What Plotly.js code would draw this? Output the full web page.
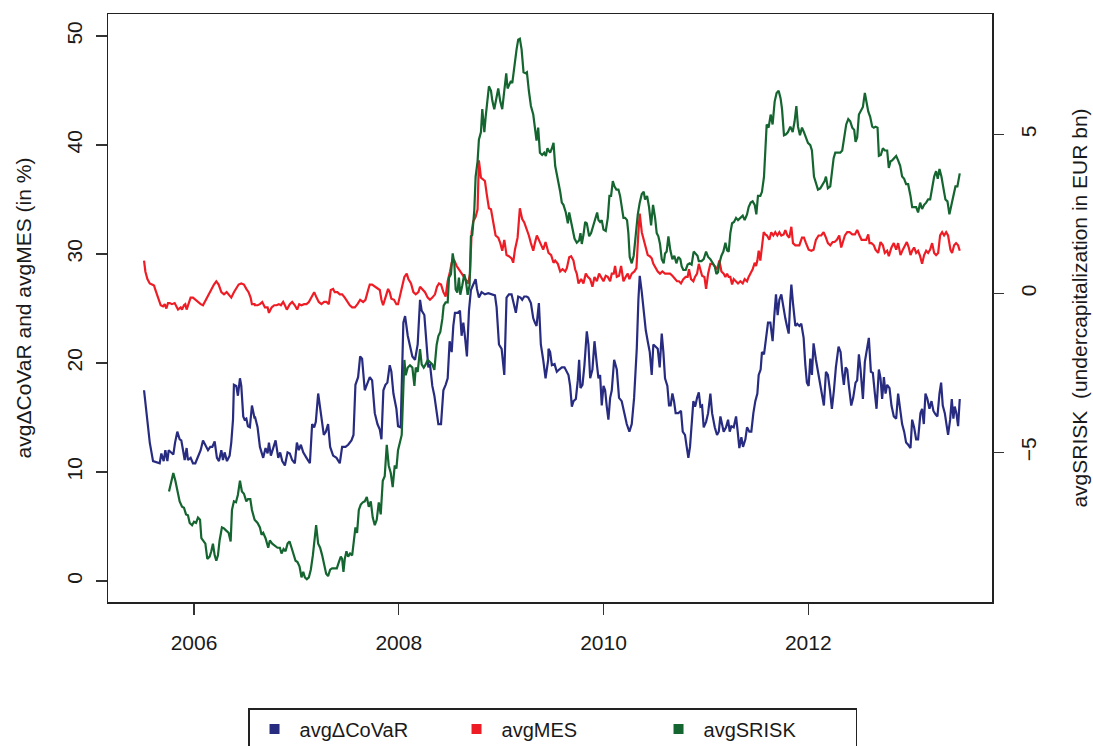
<!DOCTYPE html>
<html>
<head>
<meta charset="utf-8">
<script src="https://cdn.plot.ly/plotly-3.0.1.min.js"></script>
<style>
  html, body { margin: 0; padding: 0; background: #ffffff; }
  #chart { width: 1093px; height: 746px; }
</style>
</head>
<body>
<div id="chart"></div>
<script>
// ---- tick labels / axis values ----
const xTicks = [2006, 2008, 2010, 2012];
const xTickText = ['2006', '2008', '2010', '2012'];
const leftTicks = [0, 10, 20, 30, 40, 50];
const rightTicks = [-5, 0, 5];

const seriesNames = ['avg\u0394CoVaR', 'avgMES', 'avgSRISK'];

// ---- avgΔCoVaR (in %), left axis ----
const covarDates = [
2005.512,2005.545,2005.568,2005.600,2005.649,2005.665,2005.681,2005.704,2005.720,2005.740,
2005.753,2005.779,2005.798,2005.815,2005.837,2005.860,2005.876,2005.893,2005.909,2005.928,
2005.941,2005.967,2005.990,2006.013,2006.039,2006.065,2006.088,2006.111,2006.137,2006.159,
2006.179,2006.202,2006.224,2006.244,2006.267,2006.283,2006.299,2006.322,2006.348,2006.364,
2006.381,2006.390,2006.413,2006.429,2006.449,2006.462,2006.481,2006.494,2006.511,2006.527,
2006.546,2006.566,2006.592,
2006.595,2006.621,2006.644,2006.676,2006.699,2006.719,2006.732,2006.751,2006.774,2006.797,
2006.823,2006.842,2006.862,2006.888,2006.914,2006.936,2006.959,2006.985,2007.005,2007.024,
2007.044,2007.067,2007.099,2007.132,2007.154,2007.174,2007.190,2007.213,2007.239,2007.268,
2007.288,2007.310,2007.330,2007.359,2007.392,2007.424,2007.447,2007.480,2007.506,2007.538,
2007.558,2007.577,2007.603,2007.623,2007.642,2007.668,2007.688,2007.717,2007.740,2007.766,
2007.792,2007.815,2007.831,2007.850,2007.870,2007.889,2007.912,2007.928,2007.948,2007.977,
2007.993,2008.019,
2008.045,2008.062,2008.088,2008.110,2008.133,2008.159,2008.185,2008.208,2008.224,2008.250,
2008.273,2008.289,2008.305,2008.328,2008.348,2008.370,2008.387,2008.413,2008.436,2008.458,
2008.478,2008.497,2008.517,2008.533,2008.549,2008.575,2008.598,2008.614,2008.631,2008.647,
2008.666,2008.686,2008.705,2008.728,2008.751,2008.764,2008.783,2008.809,2008.842,2008.875,
2008.907,2008.940,2008.956,2008.979,2009.005,2009.031,2009.053,2009.076,2009.102,2009.125,
2009.144,2009.167,2009.190,2009.206,2009.226,2009.249,2009.265,2009.291,2009.314,2009.330,
2009.346,2009.369,2009.388,2009.411,2009.434,2009.460,
2009.463,2009.479,2009.496,2009.522,2009.544,2009.567,2009.593,2009.619,2009.642,2009.658,
2009.674,2009.691,2009.707,2009.730,2009.749,2009.762,2009.775,2009.795,2009.814,2009.837,
2009.853,2009.870,2009.892,2009.912,2009.935,2009.951,2009.967,2009.983,2010.000,2010.016,
2010.032,2010.048,2010.065,2010.081,2010.104,2010.130,2010.152,2010.178,2010.204,2010.227,
2010.253,2010.276,2010.299,2010.325,2010.341,2010.354,2010.374,2010.393,2010.413,2010.432,
2010.452,2010.471,2010.487,2010.510,2010.530,2010.549,2010.569,2010.585,2010.601,2010.624,
2010.640,2010.656,2010.673,2010.689,2010.705,2010.731,2010.757,2010.774,2010.796,2010.813,
2010.829,2010.845,2010.861,2010.878,2010.894,
2010.898,2010.914,2010.931,2010.947,2010.963,2010.979,2011.002,2011.022,2011.044,2011.061,
2011.087,2011.109,2011.126,2011.142,2011.158,2011.174,2011.197,2011.217,2011.233,2011.249,
2011.272,2011.295,2011.311,2011.327,2011.347,2011.363,2011.386,2011.402,2011.425,2011.444,
2011.464,2011.483,2011.503,2011.516,2011.535,2011.548,2011.568,2011.587,2011.607,2011.630,
2011.652,2011.669,2011.685,2011.701,2011.718,2011.737,2011.760,2011.776,2011.792,2011.809,
2011.825,2011.835,2011.851,2011.874,2011.893,2011.913,2011.932,2011.955,2011.971,2011.987,
2012.004,2012.020,2012.036,2012.052,2012.075,2012.095,2012.111,2012.134,2012.153,2012.173,
2012.192,2012.212,2012.231,2012.251,2012.270,2012.296,2012.316,
2012.332,2012.348,2012.365,2012.381,2012.397,2012.420,2012.439,2012.462,2012.478,2012.495,
2012.511,2012.534,2012.553,2012.576,2012.592,2012.612,2012.631,2012.651,2012.667,2012.690,
2012.706,2012.722,2012.739,2012.755,2012.771,2012.794,2012.813,2012.836,2012.859,2012.878,
2012.898,2012.917,2012.937,2012.956,2012.976,2012.999,2013.015,2013.034,2013.054,2013.073,
2013.096,2013.112,2013.129,2013.145,2013.164,2013.184,2013.204,2013.223,2013.243,2013.262,
2013.282,2013.298,2013.314,2013.334,2013.350,2013.366,2013.386,2013.402,2013.418,2013.431,
2013.447,2013.464,2013.480
];
const covarValues = [
17.5,14.8,12.7,11.0,10.9,10.8,11.7,11.0,12.0,11.0,
12.0,11.8,11.6,12.7,13.7,13.0,12.9,12.0,11.1,12.2,
11.1,11.3,10.8,10.8,11.5,12.0,12.9,12.5,12.0,12.3,
12.3,12.8,11.3,11.0,12.0,11.1,11.8,11.0,11.5,12.7,
14.8,18.0,17.9,17.0,18.6,17.9,15.1,14.8,14.9,14.2,
14.1,16.1,14.9,
15.1,14.1,12.3,11.3,12.2,11.7,12.7,11.5,12.2,12.9,
11.3,11.8,11.0,10.6,11.8,11.7,11.1,10.8,12.7,12.0,
12.5,11.8,11.3,10.8,14.4,14.1,14.6,17.2,15.4,13.4,
13.7,14.4,12.3,11.5,11.3,10.8,12.3,12.3,12.5,12.9,
13.4,18.0,18.7,20.6,20.4,17.5,18.0,18.7,18.4,15.4,
14.4,13.9,13.0,17.5,18.0,18.2,19.8,19.2,17.2,15.8,
14.2,14.1,
23.7,24.3,22.5,21.7,20.6,20.3,21.7,25.8,24.8,24.4,
21.3,19.6,19.9,17.9,17.0,15.4,14.4,14.4,17.5,18.0,
18.6,22.0,21.0,23.4,24.6,24.6,24.8,22.5,23.7,22.4,
20.6,24.8,26.7,27.2,27.7,26.8,26.0,26.5,26.3,26.4,
26.3,26.2,25.1,21.7,21.3,18.9,26.0,26.3,26.3,25.5,
24.6,26.1,26.0,25.8,26.1,26.1,26.0,25.5,24.1,23.7,
23.4,25.5,21.7,20.3,18.6,20.3,
21.3,21.0,19.8,19.9,19.2,19.4,19.6,19.6,19.2,18.9,
17.9,16.0,16.5,16.7,18.4,20.3,17.7,18.0,19.8,22.9,
21.7,18.6,19.4,22.0,19.9,18.6,18.9,16.1,17.9,17.5,
16.0,14.8,16.8,17.5,20.3,19.4,16.8,16.5,15.4,14.4,
13.7,14.4,16.8,21.3,25.8,28.0,26.5,24.8,23.0,22.0,
21.0,18.9,21.7,21.5,21.3,19.6,22.7,21.0,18.6,17.9,
16.1,16.1,17.2,16.5,15.4,15.4,15.6,13.7,13.4,12.3,
11.3,12.3,14.8,16.5,16.0,
16.1,16.8,17.3,16.0,16.1,14.1,14.6,15.4,17.2,15.4,
14.1,13.4,13.7,15.1,14.2,13.7,14.1,14.8,13.7,14.2,
14.1,15.1,13.7,12.2,13.2,12.3,13.0,14.1,13.7,13.7,
15.4,16.5,17.2,18.9,19.4,21.0,20.8,22.3,23.7,23.7,
22.0,24.4,26.3,24.4,25.8,26.3,24.8,24.1,23.4,22.7,
25.8,27.2,25.5,23.4,23.6,23.4,23.6,22.3,19.9,18.2,
17.9,20.4,18.9,21.8,20.3,19.2,18.2,16.8,16.1,19.2,
18.9,17.5,15.8,17.5,19.6,21.5,21.0,
19.2,18.0,19.6,19.4,17.9,16.1,16.8,18.2,18.4,20.8,
19.4,16.7,20.1,21.7,22.3,19.2,19.1,17.2,15.8,19.4,
18.6,16.7,18.7,17.2,18.0,17.7,16.1,15.1,14.9,17.2,
15.8,14.4,13.7,12.7,12.5,12.2,14.8,14.1,13.0,13.0,
15.4,15.8,14.4,17.2,16.7,15.8,16.5,15.6,15.3,15.1,
17.2,18.2,16.1,15.4,14.4,13.4,14.8,16.7,14.9,16.0,
15.4,14.2,16.7
];

// ---- avgMES (in %), left axis ----
const mesDates = [
2005.512,2005.525,2005.545,2005.568,2005.590,2005.610,2005.623,2005.649,2005.675,2005.698,
2005.714,2005.730,2005.746,2005.763,2005.785,2005.811,2005.828,2005.844,2005.870,2005.883,
2005.902,2005.915,2005.928,2005.948,2005.967,2005.990,2006.013,2006.039,2006.065,2006.088,
2006.104,2006.127,2006.153,2006.176,2006.195,2006.218,2006.241,2006.267,2006.293,2006.319,
2006.338,2006.364,2006.390,2006.413,2006.436,2006.462,2006.488,2006.511,2006.533,2006.553,
2006.566,2006.592,
2006.595,2006.621,2006.644,2006.667,2006.693,2006.719,2006.732,2006.758,2006.784,2006.806,
2006.829,2006.849,2006.871,2006.888,2006.907,2006.936,2006.959,2006.985,2007.008,2007.028,
2007.050,2007.076,2007.099,2007.122,2007.148,2007.174,2007.197,2007.219,2007.245,2007.271,
2007.294,2007.317,2007.336,2007.359,2007.375,2007.401,2007.424,2007.447,2007.473,2007.499,
2007.522,2007.545,2007.571,2007.597,2007.623,2007.652,2007.675,2007.701,2007.717,2007.740,
2007.766,2007.792,2007.815,2007.831,2007.847,2007.870,2007.896,2007.912,2007.928,2007.954,
2007.977,2007.993,2008.019,
2008.055,2008.078,2008.094,2008.120,2008.143,2008.166,2008.192,2008.208,2008.231,2008.257,
2008.283,2008.305,2008.328,2008.354,2008.374,2008.393,2008.413,2008.436,2008.458,2008.478,
2008.501,2008.517,2008.543,2008.566,2008.588,2008.614,2008.640,2008.663,2008.679,2008.696,
2008.712,2008.728,2008.751,2008.770,2008.783,2008.803,2008.826,2008.842,2008.861,2008.881,
2008.901,2008.923,2008.946,2008.972,2008.992,2009.011,2009.031,2009.053,2009.076,2009.102,
2009.118,2009.135,2009.161,2009.183,2009.206,2009.226,2009.249,2009.271,2009.291,2009.314,
2009.330,2009.349,2009.369,2009.388,2009.411,2009.434,2009.453,
2009.463,2009.489,2009.512,2009.528,2009.554,2009.577,2009.600,2009.626,2009.642,2009.665,
2009.684,2009.707,2009.723,2009.739,2009.756,2009.782,2009.804,2009.827,2009.847,2009.870,
2009.892,2009.912,2009.935,2009.957,2009.977,2010.000,2010.022,2010.042,2010.065,2010.081,
2010.100,2010.113,2010.130,2010.152,2010.172,2010.195,2010.217,2010.237,2010.253,2010.276,
2010.302,2010.322,2010.341,2010.354,2010.374,2010.393,2010.413,2010.432,2010.452,2010.471,
2010.487,2010.510,2010.530,2010.552,2010.575,2010.601,2010.627,2010.650,2010.673,2010.699,
2010.718,2010.738,2010.757,2010.780,2010.803,2010.822,2010.835,2010.855,2010.878,2010.894,
2010.914,2010.931,2010.947,2010.963,2010.986,2011.002,2011.022,2011.044,2011.067,2011.087,
2011.109,2011.132,2011.152,2011.174,2011.191,2011.207,2011.223,2011.239,2011.256,2011.272,
2011.295,2011.314,2011.337,2011.360,2011.379,2011.402,2011.418,2011.438,2011.457,2011.477,
2011.490,2011.503,2011.516,2011.532,2011.548,2011.565,2011.581,2011.597,2011.620,2011.639,
2011.659,2011.678,2011.698,2011.718,2011.737,2011.760,2011.776,2011.796,2011.815,2011.835,
2011.851,2011.874,2011.893,2011.913,2011.939,2011.958,2011.978,2012.004,2012.030,2012.052,
2012.075,2012.101,2012.127,2012.150,2012.173,2012.192,2012.215,2012.238,2012.257,2012.280,
2012.303,2012.322,
2012.358,2012.381,2012.404,2012.430,2012.456,2012.478,2012.501,2012.521,2012.543,2012.566,
2012.586,2012.599,2012.618,2012.641,2012.657,2012.683,2012.706,2012.729,2012.748,2012.771,
2012.787,2012.813,2012.836,2012.859,2012.878,2012.901,2012.924,2012.943,2012.963,2012.982,
2012.999,2013.015,2013.034,2013.054,2013.073,2013.093,2013.112,2013.132,2013.152,2013.171,
2013.191,2013.210,2013.230,2013.249,2013.269,2013.288,2013.308,2013.327,2013.347,2013.366,
2013.389,2013.405,2013.425,2013.444,2013.464,2013.480
];
const mesValues = [
29.4,28.4,27.7,27.3,27.2,27.1,26.7,26.0,25.3,25.2,
25.4,25.0,25.5,25.5,25.4,25.5,25.1,24.9,25.1,24.9,
25.3,25.4,24.9,25.5,26.0,26.0,25.8,25.6,25.4,25.3,
25.6,26.0,26.5,26.8,27.2,27.5,27.2,26.5,26.3,26.5,
26.3,26.0,26.5,26.8,27.2,27.3,27.2,26.8,26.5,26.0,
25.4,25.4,
25.3,25.3,25.4,25.6,25.1,25.1,24.6,25.1,25.3,25.3,
25.4,25.3,25.6,25.3,24.9,25.4,25.6,25.3,24.9,25.4,
25.3,25.4,25.4,25.6,26.0,26.5,26.0,25.6,25.4,25.6,
25.6,25.4,26.7,26.8,26.5,26.5,26.3,26.3,26.0,25.6,
25.3,25.1,25.1,25.4,25.8,25.6,25.8,26.7,27.2,27.2,
27.0,26.8,26.7,25.8,25.3,26.0,26.8,26.5,25.9,25.8,
25.4,25.4,26.5,
27.9,28.2,27.7,27.3,26.5,26.3,26.5,27.0,26.8,26.5,
26.0,25.8,26.0,26.3,27.0,27.3,27.2,26.5,26.1,27.5,
28.4,29.2,29.4,28.9,28.6,28.2,27.9,27.5,27.3,28.2,
32.0,33.0,33.4,34.1,38.6,37.0,36.8,36.7,35.4,34.2,
34.1,32.7,31.7,31.5,31.0,30.3,31.3,29.9,29.8,29.6,
29.2,30.4,31.5,34.2,33.2,32.9,32.3,31.7,31.0,30.3,
31.0,31.7,31.3,30.8,30.4,31.1,30.3,
30.1,29.9,29.2,29.4,29.1,28.4,28.6,28.4,28.7,29.7,
29.8,29.4,28.6,28.2,27.3,27.7,27.3,28.2,27.9,27.7,
27.0,27.9,27.5,28.2,27.9,27.5,28.0,27.9,27.5,28.2,
28.2,28.9,27.9,28.0,28.9,27.5,27.9,28.2,27.7,28.2,
28.4,28.7,32.0,33.7,32.0,31.3,30.4,29.9,29.8,29.6,
29.1,28.7,28.4,28.2,28.4,28.2,28.2,28.2,28.0,27.7,
27.5,27.5,27.3,27.7,27.9,27.9,28.6,27.7,27.5,27.9,
28.2,29.1,28.6,28.0,27.9,26.8,28.2,29.1,29.1,28.9,
28.6,29.4,28.4,28.2,27.9,28.2,27.9,27.9,27.2,27.7,
27.5,27.3,27.5,27.3,27.7,27.5,27.9,28.2,28.6,29.2,
28.9,29.4,30.3,29.4,30.6,32.0,31.8,31.7,31.3,32.0,
31.7,32.0,31.7,32.0,31.7,31.8,32.2,31.7,31.5,32.5,
31.0,30.8,30.8,30.8,31.5,31.5,31.0,30.4,30.3,30.4,
31.3,31.7,31.7,32.0,31.5,31.0,30.8,31.1,31.1,31.3,
31.7,30.6,
31.7,32.0,32.0,31.8,31.8,32.2,31.7,31.3,31.3,31.3,
31.8,31.0,31.0,30.8,30.4,30.1,31.1,30.8,30.1,30.3,
29.8,30.6,31.0,30.4,31.0,29.9,30.4,30.8,31.1,30.6,
29.9,30.3,30.6,30.1,30.3,29.8,29.1,29.9,30.3,30.1,
30.4,31.0,30.1,29.9,30.1,31.7,32.0,31.7,32.0,31.7,
30.4,30.1,30.8,31.0,30.8,30.3
];

// ---- avgSRISK (EUR bn), right axis ----
const sriskDates = [
2005.756,2005.779,2005.798,2005.818,2005.837,2005.860,2005.883,2005.902,2005.922,2005.941,
2005.958,2005.981,2006.000,2006.020,2006.039,2006.059,2006.072,2006.091,2006.111,2006.130,
2006.153,2006.169,2006.185,2006.202,2006.218,2006.234,2006.250,2006.273,2006.293,2006.315,
2006.338,2006.358,2006.371,2006.390,2006.410,2006.429,2006.449,2006.468,2006.488,2006.511,
2006.527,2006.550,2006.566,2006.592,
2006.621,2006.644,2006.660,2006.676,2006.699,2006.725,2006.741,2006.764,2006.790,2006.816,
2006.839,2006.855,2006.875,2006.894,2006.914,2006.933,2006.953,2006.972,2006.992,2007.011,
2007.031,2007.050,2007.067,2007.083,2007.102,2007.122,2007.141,2007.161,2007.180,2007.193,
2007.213,2007.232,2007.252,2007.271,2007.291,2007.310,2007.330,2007.349,2007.375,2007.395,
2007.415,2007.434,2007.447,2007.460,2007.473,2007.489,2007.506,2007.525,2007.545,2007.564,
2007.577,2007.593,2007.610,2007.629,2007.649,2007.668,2007.688,2007.707,2007.727,2007.746,
2007.766,2007.785,2007.805,2007.824,2007.844,2007.863,2007.883,2007.902,2007.922,2007.941,
2007.961,2007.977,2007.993,
2008.029,2008.045,2008.055,2008.068,2008.088,2008.110,2008.133,2008.153,2008.166,2008.185,
2008.208,2008.224,2008.244,2008.263,2008.283,2008.305,2008.328,2008.348,2008.370,2008.387,
2008.406,2008.426,2008.439,2008.458,2008.478,2008.491,2008.510,2008.527,2008.543,2008.556,
2008.572,2008.588,2008.601,2008.621,2008.640,2008.657,2008.673,2008.692,2008.705,2008.718,
2008.738,2008.751,2008.770,2008.783,2008.803,2008.816,2008.836,2008.849,2008.868,2008.881,
2008.901,2008.914,2008.933,2008.953,2008.972,2008.992,2009.011,2009.031,2009.050,2009.063,
2009.076,2009.096,2009.109,2009.128,2009.151,2009.167,2009.183,2009.200,2009.219,2009.239,
2009.252,2009.271,2009.291,2009.314,2009.330,2009.346,2009.362,2009.379,2009.401,2009.421,
2009.437,2009.453,
2009.463,2009.479,2009.496,2009.512,2009.528,2009.544,2009.561,2009.577,2009.593,2009.609,
2009.632,2009.652,2009.665,2009.684,2009.697,2009.717,2009.739,2009.762,2009.775,2009.788,
2009.804,2009.821,2009.837,2009.860,2009.879,2009.902,2009.918,2009.938,2009.951,2009.967,
2009.983,2010.000,2010.022,2010.042,2010.058,2010.074,2010.091,2010.107,2010.126,2010.146,
2010.162,2010.178,2010.195,2010.211,2010.230,2010.243,2010.256,2010.276,2010.295,2010.315,
2010.335,2010.354,2010.374,2010.393,2010.406,2010.426,2010.445,2010.465,2010.484,2010.504,
2010.520,2010.536,2010.552,2010.569,2010.588,2010.601,2010.617,2010.634,2010.653,2010.673,
2010.692,2010.712,2010.731,2010.751,2010.764,2010.780,2010.803,2010.822,2010.842,2010.861,
2010.881,
2010.918,2010.931,2010.957,2010.979,2011.002,2011.022,2011.044,2011.067,2011.087,2011.103,
2011.119,2011.132,2011.152,2011.171,2011.191,2011.207,2011.223,2011.239,2011.256,2011.275,
2011.295,2011.314,2011.337,2011.360,2011.379,2011.402,2011.418,2011.438,2011.457,2011.477,
2011.493,2011.509,2011.532,2011.548,2011.568,2011.581,2011.594,2011.613,2011.633,2011.652,
2011.672,2011.691,2011.711,2011.730,2011.744,2011.763,2011.783,2011.802,2011.825,2011.848,
2011.867,2011.884,2011.900,2011.919,2011.939,2011.958,2011.978,2011.997,2012.020,2012.036,
2012.056,2012.075,2012.095,2012.118,2012.140,2012.160,2012.173,2012.192,2012.215,2012.231,
2012.248,2012.264,2012.290,2012.313,
2012.332,2012.352,2012.371,2012.391,2012.410,2012.430,2012.449,2012.462,2012.478,2012.495,
2012.514,2012.534,2012.553,2012.566,2012.586,2012.605,2012.625,2012.641,2012.657,2012.677,
2012.690,2012.709,2012.729,2012.748,2012.771,2012.787,2012.804,2012.820,2012.839,2012.859,
2012.878,2012.898,2012.917,2012.937,2012.956,2012.976,2012.999,2013.015,2013.034,2013.054,
2013.073,2013.093,2013.112,2013.132,2013.152,2013.171,2013.191,2013.210,2013.230,2013.249,
2013.265,2013.282,2013.301,2013.321,2013.340,2013.360,2013.379,2013.399,2013.418,2013.438,
2013.457,2013.480
];
const sriskValues = [
-6.23,-5.89,-5.65,-5.89,-6.23,-6.54,-6.71,-6.74,-6.95,-6.98,
-7.22,-7.29,-7.18,-7.22,-7.05,-7.12,-7.70,-7.77,-7.87,-8.35,
-8.28,-8.11,-7.87,-8.24,-8.41,-8.24,-7.77,-7.36,-7.39,-7.46,
-7.53,-7.80,-6.81,-6.54,-6.57,-6.33,-5.89,-6.23,-6.30,-6.54,
-6.47,-6.47,-6.81,-7.12,
-7.22,-7.36,-7.59,-7.53,-7.70,-8.00,-7.77,-7.87,-7.94,-8.00,
-8.00,-8.18,-8.04,-8.11,-7.87,-7.80,-8.00,-8.24,-8.41,-8.45,
-8.59,-8.93,-8.76,-8.93,-8.99,-8.93,-8.69,-8.24,-7.77,-7.29,
-7.87,-8.00,-8.24,-8.52,-8.82,-8.89,-8.69,-8.65,-8.65,-8.65,
-8.45,-8.28,-8.35,-8.76,-8.35,-8.11,-8.28,-8.18,-8.24,-7.80,
-7.36,-7.53,-6.81,-6.64,-6.57,-6.54,-6.40,-6.71,-6.54,-7.05,
-7.29,-7.12,-6.57,-6.95,-5.89,-5.75,-4.76,-5.41,-5.65,-6.09,
-5.41,-5.51,-4.93,
-4.45,-3.05,-2.09,-2.57,-2.33,-2.26,-2.33,-2.91,-2.33,-2.47,
-1.75,-2.23,-2.33,-2.23,-2.09,-2.16,-2.23,-2.40,-1.62,-1.34,
-1.21,-0.80,-0.38,-0.28,-0.28,0.50,0.61,1.26,0.95,0.13,
0.03,0.50,-0.04,0.26,0.61,0.37,-0.04,0.26,1.80,1.84,
2.62,3.68,4.16,4.84,5.08,5.80,5.08,5.56,6.28,6.52,
6.38,6.07,5.80,6.21,6.45,6.04,5.80,6.38,6.93,6.45,
6.55,6.69,6.62,7.20,7.68,7.99,8.02,7.68,6.96,6.93,
6.96,6.38,5.90,5.63,5.22,4.81,5.22,4.43,4.36,4.43,
4.33,4.57,
4.50,4.43,4.57,4.74,4.02,3.78,3.54,3.20,2.86,2.79,
2.55,2.21,2.55,2.25,1.97,1.73,1.60,1.67,1.90,1.56,
1.84,2.25,2.21,1.80,1.90,2.14,2.31,2.55,2.31,2.25,
2.31,2.01,1.97,2.38,3.07,3.07,3.54,3.37,3.27,3.27,
3.07,2.79,2.38,2.38,2.31,1.90,1.15,0.95,1.19,1.84,
2.49,2.86,3.13,3.20,2.96,3.07,2.72,2.14,2.79,2.38,
1.90,1.80,1.56,1.08,0.95,1.26,1.32,1.80,1.36,1.08,
1.19,0.95,1.15,1.08,0.85,0.74,0.74,0.91,0.95,0.91,
1.32,
1.19,1.02,1.02,1.08,1.32,1.15,1.08,0.95,0.85,0.61,
0.67,0.95,1.19,1.32,1.60,1.36,1.32,1.90,2.21,2.25,
2.38,2.31,2.38,2.45,2.31,2.49,2.72,2.86,2.90,2.79,
2.49,3.07,3.07,3.20,3.68,4.36,5.32,5.22,5.63,5.32,
6.04,6.31,6.38,6.14,5.80,4.98,5.01,5.08,5.25,5.08,
5.42,5.90,5.25,4.98,5.22,5.08,4.91,4.74,4.67,4.50,
3.68,3.51,3.27,3.31,3.44,3.54,3.68,3.31,3.37,3.78,
4.26,4.43,4.43,4.43,
4.50,4.98,5.32,5.49,5.42,5.22,5.15,4.77,4.91,5.63,
5.73,5.87,6.31,6.04,5.73,5.56,5.25,5.22,5.25,5.22,
4.33,4.36,4.57,4.50,4.50,3.95,4.16,4.19,4.26,4.33,
4.19,4.02,3.68,3.61,3.44,3.44,3.07,2.72,2.72,2.72,
2.55,2.86,2.66,2.79,2.86,2.96,2.96,3.27,3.68,3.85,
3.61,3.92,3.68,3.31,2.96,2.90,2.49,2.79,3.03,3.37,
3.37,3.78
];

// ---- styling ----
const colors = ['#282c80', '#ee1d25', '#14652f'];
const FONT = 'Liberation Sans, Arial, Helvetica, sans-serif';
const INK = '#1a1a1a';

const traces = [
  { x: covarDates, y: covarValues, type: 'scatter', mode: 'lines', name: seriesNames[0],
    line: { color: colors[0], width: 2.2 }, yaxis: 'y', showlegend: false, hoverinfo: 'skip' },
  { x: mesDates, y: mesValues, type: 'scatter', mode: 'lines', name: seriesNames[1],
    line: { color: colors[1], width: 2.2 }, yaxis: 'y', showlegend: false, hoverinfo: 'skip' },
  { x: sriskDates, y: sriskValues, type: 'scatter', mode: 'lines', name: seriesNames[2],
    line: { color: colors[2], width: 2.2 }, yaxis: 'y2', showlegend: false, hoverinfo: 'skip' }
];
// legend entries (square keys, as in the original)
seriesNames.forEach(function (nm, i) {
  traces.push({ x: [null], y: [null], type: 'scatter', mode: 'markers', name: nm,
    marker: { symbol: 'square', size: 10, color: colors[i] }, showlegend: true, hoverinfo: 'skip' });
});

const layout = {
  width: 1093, height: 746,
  margin: { l: 108, r: 101, t: 14, b: 144, pad: 0, autoexpand: false },
  paper_bgcolor: '#ffffff', plot_bgcolor: '#ffffff',
  font: { family: FONT, size: 21, color: INK },
  showlegend: true,
  xaxis: {
    range: [2005.16, 2013.795], tickmode: 'array', tickvals: xTicks, ticktext: xTickText,
    ticks: 'outside', ticklen: 11, tickwidth: 1.2, tickcolor: '#333',
    showline: true, linecolor: '#222', linewidth: 1.5, mirror: true,
    showgrid: false, zeroline: false, ticklabelstandoff: 10, automargin: false,
    tickfont: { family: FONT, size: 21, color: INK }
  },
  yaxis: {
    range: [-1.927, 52.02], tickmode: 'array', tickvals: leftTicks,
    ticks: 'outside', ticklen: 11, tickwidth: 1.2, tickcolor: '#333', tickangle: -90,
    showline: true, linecolor: '#222', linewidth: 1.5, mirror: true,
    showgrid: false, zeroline: false, ticklabelstandoff: 5, automargin: false,
    tickfont: { family: FONT, size: 21, color: INK },
    title: { text: 'avg\u0394CoVaR and avgMES (in %)', font: { family: FONT, size: 21, color: INK }, standoff: 25 }
  },
  yaxis2: {
    overlaying: 'y', side: 'right',
    range: [-9.707, 8.795], tickmode: 'array', tickvals: rightTicks,
    ticks: 'outside', ticklen: 11, tickwidth: 1.2, tickcolor: '#333', tickangle: -90,
    showline: false, showgrid: false, zeroline: false, ticklabelstandoff: 7, automargin: false,
    tickfont: { family: FONT, size: 21, color: INK },
    title: { text: 'avgSRISK  (undercapitalization in EUR bn)', font: { family: FONT, size: 21, color: INK }, standoff: 33 }
  },
  legend: {
    orientation: 'h', x: 0.1584, xanchor: 'left', y: -0.1803, yanchor: 'top',
    bordercolor: '#222', borderwidth: 1.5, bgcolor: 'rgba(255,255,255,0)',
    font: { family: FONT, size: 20, color: INK },
    itemwidth: 40, entrywidth: 147, entrywidthmode: 'pixels', traceorder: 'normal'
  }
};

Plotly.newPlot('chart', traces, layout, { displayModeBar: false, staticPlot: true });
</script>
</body>
</html>
